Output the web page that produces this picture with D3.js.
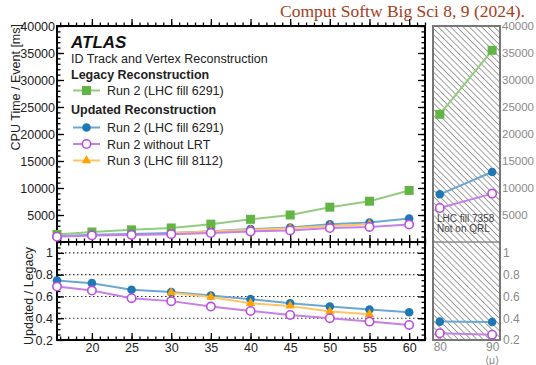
<!DOCTYPE html>
<html>
<head>
<meta charset="utf-8">
<script src="https://cdn.jsdelivr.net/npm/d3@7"></script>
<style>
  body { margin: 0; background: #fff; }
  svg { font-family: "Liberation Sans", Arial, sans-serif; }
</style>
</head>
<body>
<div id="graf"></div>
<script>
// Data
const mu = [15.6, 20, 25, 30, 35, 40, 45, 50, 55, 60]
const legacyRun2 = [1400, 1850, 2250, 2600, 3300, 4200, 5000, 6450, 7550, 9550]
const updRun2 = [1050, 1330, 1470, 1660, 2000, 2400, 2680, 3270, 3620, 4350]
const updNoLRT = [970, 1210, 1310, 1450, 1670, 1960, 2150, 2580, 2790, 3230]
const muRun3 = [30, 35, 40, 45, 50, 55]
const updRun3 = [1650, 1960, 2260, 2560, 2970, 3300]
const ratioRun2 = [0.747, 0.722, 0.661, 0.64, 0.608, 0.575, 0.538, 0.507, 0.48, 0.455]
const ratioNoLRT = [0.691, 0.654, 0.584, 0.557, 0.507, 0.467, 0.43, 0.4, 0.369, 0.338]
const ratioRun3 = [0.635, 0.594, 0.538, 0.513, 0.461, 0.437]
// fill 7358 (hatched panel)
const muHigh = [80, 90]
const legacyHigh = [23650, 35500]
const updHigh = [8830, 12960]
const noLRTHigh = [6300, 8960]
const ratioHigh = [0.369, 0.366]
const ratioNoLRTHigh = [0.262, 0.249]

const yTicks = [5000, 10000, 15000, 20000, 25000, 30000, 35000, 40000]
const rTicks = [0.2, 0.4, 0.6, 0.8, 1]
const xTicks = [20, 25, 30, 35, 40, 45, 50, 55, 60]

const col = { green: "#62b544", blue: "#1f78b4", purple: "#b94ee0", orange: "#ffa300" }
const lineCol = { green: "#93cc7e", blue: "#6aa7d2", purple: "#c77fe6", orange: "#ffc466" }

const W = 536, H = 365
const svg = d3.select("#graf").append("svg").attr("width", W).attr("height", H)

const L = 57, R = 425, T = 26, M = 242, B = 340
const L2 = 433, R2 = 500

const x = d3.scaleLinear().domain([15.6, 62.0]).range([L, R])
const y = d3.scaleLinear().domain([0, 40000]).range([M, T])
const r = d3.scaleLinear().domain([0.2, 1.1]).range([B, M])
const x2 = d3.scaleLinear().domain([78.7, 91.5]).range([L2, R2])

// hatch pattern (lines running top-left to bottom-right)
const defs = svg.append("defs")
const pat = defs.append("pattern").attr("id", "hatch").attr("patternUnits", "userSpaceOnUse")
  .attr("width", 4.4).attr("height", 4.4).attr("patternTransform", "rotate(-45)")
pat.append("line").attr("x1", 0).attr("y1", 0).attr("x2", 0).attr("y2", 4.4)
  .attr("stroke", "#555").attr("stroke-width", 1.1)

// citation
svg.append("text").attr("x", 525).attr("y", 17).attr("text-anchor", "end")
  .attr("font-family", "'Liberation Serif', 'DejaVu Serif', serif").attr("font-size", 17.5)
  .attr("fill", "#a3401c").text("Comput Softw Big Sci 8, 9 (2024).")

// hatched right panel
svg.append("rect").attr("x", L2).attr("y", T).attr("width", R2 - L2).attr("height", B - T)
  .attr("fill", "url(#hatch)")
svg.append("line").attr("x1", L2).attr("x2", R2).attr("y1", M).attr("y2", M)
  .attr("stroke", "#888").attr("stroke-width", 1.5)

// ratio grid lines
svg.append("g").selectAll("line").data([0.4, 0.6, 0.8, 1]).join("line")
  .attr("x1", L).attr("x2", R).attr("y1", (d) => r(d)).attr("y2", (d) => r(d))
  .attr("stroke", "#333").attr("stroke-width", 1.1).attr("stroke-dasharray", "1.5,2.5")

// axes helper
const axisG = (gen, tx, ty, color, fs) => {
  const g = svg.append("g").attr("transform", `translate(${tx},${ty})`).call(gen)
  g.select(".domain").remove()
  g.selectAll("line").attr("stroke", color || "#000").attr("stroke-width", 1.3)
  g.selectAll("text").attr("font-size", fs || 12.5).attr("fill", color || "#222")
    .attr("font-family", "'Liberation Sans', Arial, sans-serif")
  return g
}
const range = (a, b, s) => d3.range(a, b + s / 2, s)

// top panel y
axisG(d3.axisLeft(y).tickValues(yTicks).tickSize(-7).tickPadding(2).tickFormat(d3.format("d")), L, 0)
axisG(d3.axisLeft(y).tickValues(range(1000, 40000, 1000)).tickSize(-3.5).tickFormat(""), L, 0)
axisG(d3.axisRight(y).tickValues(yTicks).tickSize(-7).tickFormat(""), R, 0)
axisG(d3.axisRight(y).tickValues(range(1000, 40000, 1000)).tickSize(-3.5).tickFormat(""), R, 0)
// ratio y
axisG(d3.axisLeft(r).tickValues(rTicks).tickSize(-7).tickPadding(4).tickFormat((d) => (d === 1 ? "1" : d3.format(".1f")(d))), L, 0)
axisG(d3.axisLeft(r).tickValues(range(0.25, 1.1, 0.05)).tickSize(-3.5).tickFormat(""), L, 0)
axisG(d3.axisRight(r).tickValues(rTicks).tickSize(-7).tickFormat(""), R, 0)
axisG(d3.axisRight(r).tickValues(range(0.25, 1.1, 0.05)).tickSize(-3.5).tickFormat(""), R, 0)
// x axes
const xMinor = range(16, 62, 1)
axisG(d3.axisBottom(x).tickValues(xTicks).tickSize(-7).tickFormat(""), 0, T)
axisG(d3.axisBottom(x).tickValues(xMinor).tickSize(-3.5).tickFormat(""), 0, T)
axisG(d3.axisBottom(x).tickValues(xTicks).tickSize(6).tickFormat(""), 0, M)
axisG(d3.axisBottom(x).tickValues(xTicks).tickSize(-7).tickFormat(""), 0, M)
axisG(d3.axisBottom(x).tickValues(xMinor).tickSize(3.5).tickFormat(""), 0, M)
axisG(d3.axisBottom(x).tickValues(xMinor).tickSize(-3.5).tickFormat(""), 0, M)
axisG(d3.axisBottom(x).tickValues(xTicks).tickSize(-7).tickPadding(3).tickFormat(d3.format("d")), 0, B)
axisG(d3.axisBottom(x).tickValues(xMinor).tickSize(-3.5).tickFormat(""), 0, B)

// right panel axes (grey)
const grey = "#8a8a8a"
axisG(d3.axisRight(y).tickValues(yTicks).tickSize(0).tickPadding(2).tickFormat(d3.format("d")), R2, 0, grey, 11.5)
axisG(d3.axisRight(r).tickValues(rTicks).tickSize(0).tickPadding(3).tickFormat((d) => (d === 1 ? "1" : d3.format(".1f")(d))), R2, 0, grey, 12)
axisG(d3.axisBottom(x2).tickValues(muHigh).tickSize(-4).tickPadding(2).tickFormat(d3.format("d")), 0, B, grey, 12)
svg.append("text").attr("x", x2(90)).attr("y", 364).attr("text-anchor", "middle")
  .attr("font-size", 10.5).attr("fill", grey).text("⟨μ⟩")

// frames
svg.append("rect").attr("x", L).attr("y", T).attr("width", R - L).attr("height", B - T)
  .attr("fill", "none").attr("stroke", "#000").attr("stroke-width", 2)
svg.append("line").attr("x1", L).attr("x2", R).attr("y1", M).attr("y2", M)
  .attr("stroke", "#000").attr("stroke-width", 2)
svg.append("rect").attr("x", L2).attr("y", T).attr("width", R2 - L2).attr("height", B - T)
  .attr("fill", "none").attr("stroke", "#777").attr("stroke-width", 2)

svg.append("text").attr("x", 437).attr("y", 222).attr("font-size", 10).attr("fill", "#444")
  .text("LHC fill 7358")
svg.append("text").attr("x", 437).attr("y", 232).attr("font-size", 10).attr("fill", "#444")
  .text("Not on QRL")

// markers
const marker = (g, kind, cx, cy) => {
  if (kind === "green")
    g.append("rect").attr("x", cx - 4.5).attr("y", cy - 4.5).attr("width", 9).attr("height", 9).attr("fill", col.green)
  else if (kind === "blue")
    g.append("circle").attr("cx", cx).attr("cy", cy).attr("r", 4.3).attr("fill", col.blue)
  else if (kind === "purple")
    g.append("circle").attr("cx", cx).attr("cy", cy).attr("r", 4.2).attr("fill", "#fff")
      .attr("stroke", col.purple).attr("stroke-width", 1.6)
  else
    g.append("path").attr("transform", `translate(${cx},${cy})`)
      .attr("d", d3.symbol(d3.symbolTriangle, 38)()).attr("fill", col.orange)
}

const series = (xs, ys, sx, sy, kind) => {
  const g = svg.append("g")
  const pts = xs.map((d, i) => [sx(d), sy(ys[i])])
  g.append("path").attr("d", d3.line()(pts)).attr("fill", "none")
    .attr("stroke", lineCol[kind]).attr("stroke-width", 2)
  pts.forEach((p) => marker(g, kind, p[0], p[1]))
}

series(mu, legacyRun2, x, y, "green")
series(mu, updRun2, x, y, "blue")
series(muRun3, updRun3, x, y, "orange")
series(mu, updNoLRT, x, y, "purple")
series(mu, ratioRun2, x, r, "blue")
series(muRun3, ratioRun3, x, r, "orange")
series(mu, ratioNoLRT, x, r, "purple")

series(muHigh, legacyHigh, x2, y, "green")
series(muHigh, updHigh, x2, y, "blue")
series(muHigh, noLRTHigh, x2, y, "purple")
series(muHigh, ratioHigh, x2, r, "blue")
series(muHigh, ratioNoLRTHigh, x2, r, "purple")

// axis titles
svg.append("text").attr("transform", "translate(20,24) rotate(-90)").attr("text-anchor", "end")
  .attr("font-size", 12.5).attr("fill", "#222").text("CPU Time / Event [ms]")
svg.append("text").attr("transform", "translate(33,247) rotate(-90)").attr("text-anchor", "end")
  .attr("font-size", 12.5).attr("fill", "#222").text("Updated / Legacy")

// legend
const lg = svg.append("g")
lg.append("text").attr("x", 71).attr("y", 48).attr("font-size", 17).attr("font-weight", "bold")
  .attr("font-style", "italic").attr("fill", "#111").text("ATLAS")
lg.append("text").attr("x", 71).attr("y", 63).attr("font-size", 12.5).attr("fill", "#222")
  .text("ID Track and Vertex Reconstruction")
lg.append("text").attr("x", 71).attr("y", 78.5).attr("font-size", 12.5).attr("font-weight", "bold")
  .attr("fill", "#222").text("Legacy Reconstruction")
lg.append("text").attr("x", 71).attr("y", 113.5).attr("font-size", 12.5).attr("font-weight", "bold")
  .attr("fill", "#222").text("Updated Reconstruction")
const legItems = [
  { kind: "green", label: "Run 2 (LHC fill 6291)", y: 90.5 },
  { kind: "blue", label: "Run 2 (LHC fill 6291)", y: 127.5 },
  { kind: "purple", label: "Run 2 without LRT", y: 144 },
  { kind: "orange", label: "Run 3 (LHC fill 8112)", y: 160.5 },
]
legItems.forEach((d) => {
  lg.append("line").attr("x1", 73).attr("x2", 100).attr("y1", d.y).attr("y2", d.y)
    .attr("stroke", lineCol[d.kind]).attr("stroke-width", 2)
  marker(lg, d.kind, 86.5, d.y)
  lg.append("text").attr("x", 107).attr("y", d.y + 4.5).attr("font-size", 12.5).attr("fill", "#222")
    .text(d.label)
})
</script>
</body>
</html>
